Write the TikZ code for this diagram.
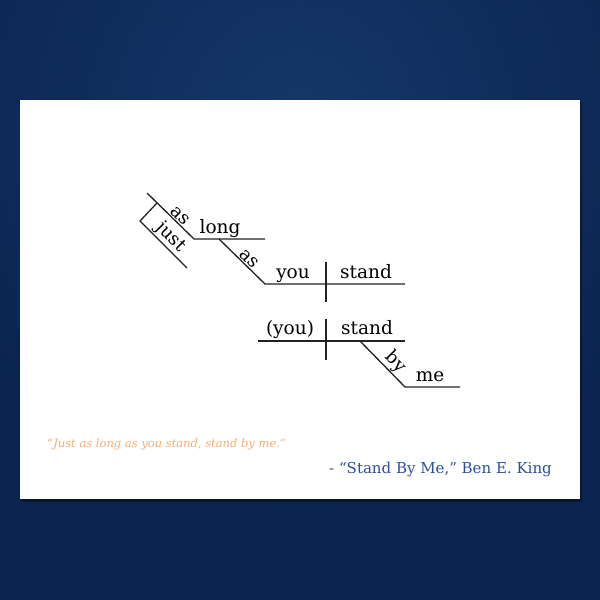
\documentclass[tikz,border=0pt]{standalone}
\usepackage{fontspec}
\setmainfont{DejaVu Serif}
\definecolor{navyout}{HTML}{0B2450}
\definecolor{navyin}{HTML}{143869}
\definecolor{quoteorange}{HTML}{F6AD72}
\definecolor{attrblue}{HTML}{2D4E96}
\definecolor{inkline}{HTML}{222222}
\begin{document}
\begin{tikzpicture}[x=1pt,y=-1pt,
  diag/.style={draw=inkline, line width=1.3pt},
  word/.style={font=\fontsize{18.5}{21}\selectfont, text=black, inner sep=1pt},
  slab/.style={font=\fontsize{18}{21}\selectfont, text=black, sloped, above, inner sep=1pt}]
\useasboundingbox (0,0) rectangle (600,600);
% background
\fill[navyout] (0,0) rectangle (600,600);
\begin{scope}
\clip (0,0) rectangle (600,600);
\shade[inner color=navyin, outer color=navyout] (300,120) circle (400);
\end{scope}
% card with soft shadow
\fill[black, opacity=0.35] (22,102) rectangle (582,502);
\fill[white] (20,100) rectangle (580,499);
% coordinates
\coordinate (a1) at (147,193);
\coordinate (a2) at (194,239);
\coordinate (l2) at (265,239);
\coordinate (j0) at (140,221);
\coordinate (j1) at (157,203);
\coordinate (j2) at (187,268);
\coordinate (b1) at (219,239);
\coordinate (b2) at (265,284);
\coordinate (c2) at (405,284);
\coordinate (v1) at (326,262);
\coordinate (v2) at (326,302);
\coordinate (d1) at (258,341);
\coordinate (d2) at (405,341);
\coordinate (w1) at (326,319);
\coordinate (w2) at (326,360);
\coordinate (p1) at (360,341);
\coordinate (p2) at (405,387);
\coordinate (m2) at (460,387);
% lines
\draw[diag] (a1) -- node[slab, pos=0.6] {as} (a2) -- (l2);
\draw[diag] (j1) -- (j0) -- node[slab, pos=0.5] {just} (j2);
\draw[diag] (b1) -- node[slab, pos=0.55] {as} (b2) -- (c2);
\draw[diag] (v1) -- (v2);
\draw[diag] (d1) -- (d2);
\draw[diag] (w1) -- (w2);
\draw[diag] (p1) -- node[slab, pos=0.62] {by} (p2) -- (m2);
% words
\node[word, anchor=base] (long) at (220,233) {long};
\node[word, anchor=base] (you) at (293,278) {you};
\node[word, anchor=base] (stand1) at (366,278) {stand};
\node[word, anchor=base] (youp) at (290,334) {(you)};
\node[word, anchor=base] (stand2) at (367,334) {stand};
\node[word, anchor=base] (me) at (430,381) {me};
% quote and attribution
\node[anchor=base west, inner sep=0pt, text=quoteorange, font=\itshape\fontsize{11.5}{13}\selectfont] (quote) at (47,447) {“Just as long as you stand, stand by me.”};
\node[anchor=base east, inner sep=0pt, text=attrblue, font=\fontsize{15}{18}\selectfont] (attr) at (552,473) {- “Stand By Me,” Ben E. King};
\end{tikzpicture}
\end{document}
